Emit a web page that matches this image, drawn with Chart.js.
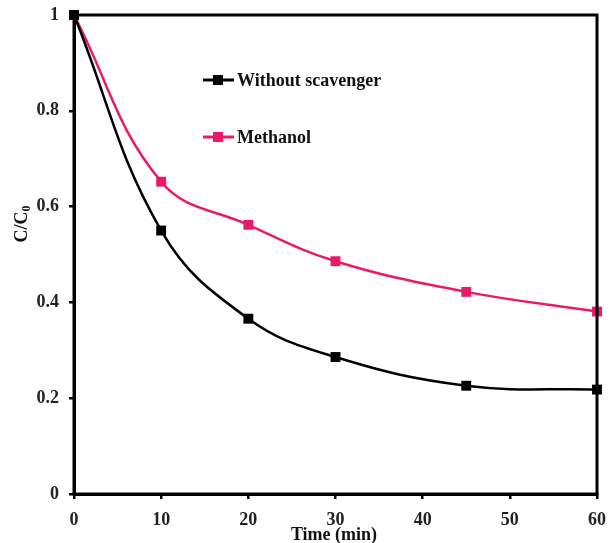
<!DOCTYPE html>
<html lang="en">
<head>
<meta charset="UTF-8">
<title>C/C0 vs time</title>
<script src="https://cdn.jsdelivr.net/npm/chart.js@4.4.1/dist/chart.umd.min.js"></script>
<style>
  html, body { margin: 0; padding: 0; background: #fff; }
  #wrap { width: 615px; height: 543px; }
</style>
</head>
<body>
<div id="wrap"><canvas id="myChart" width="615" height="543"></canvas></div>
<script>
    // data
    const times = [0, 10, 20, 30, 45, 60];
    const withoutScavenger = [1, 0.55, 0.366, 0.286, 0.226, 0.218];
    const methanol = [1, 0.652, 0.562, 0.486, 0.422, 0.381];
    const seriesNames = ['Without scavenger', 'Methanol'];
    const xTicks = [0, 10, 20, 30, 40, 50, 60];
    const yTicks = [0, 0.2, 0.4, 0.6, 0.8, 1];

    const PINK = '#EA1A6B';
    const FONT = 'bold 18px "Liberation Serif"';

    function toPoints(ys) {
        return times.map((t, i) => ({ x: t, y: ys[i] }));
    }

    // frame, axis titles and the legend inside the plot
    const extras = {
        id: 'extras',
        afterDraw(chart) {
            const ctx = chart.ctx;
            const a = chart.chartArea;
            ctx.save();
            ctx.strokeStyle = '#000';
            ctx.lineWidth = 3;
            ctx.strokeRect(a.left, a.top, a.right - a.left, a.bottom - a.top);

            ctx.fillStyle = '#111';
            ctx.font = FONT;
            ctx.textAlign = 'center';
            ctx.textBaseline = 'middle';
            ctx.fillText('Time (min)', 334, 535);

            // y title with subscript
            ctx.translate(22, 224);
            ctx.rotate(-Math.PI / 2);
            ctx.textAlign = 'left';
            const w1 = ctx.measureText('C/C').width;
            ctx.font = 'bold 12px "Liberation Serif"';
            const w2 = ctx.measureText('0').width;
            const start = -(w1 + w2) / 2;
            ctx.font = FONT;
            ctx.fillText('C/C', start, 0);
            ctx.font = 'bold 12px "Liberation Serif"';
            ctx.fillText('0', start + w1, 5);
            ctx.restore();

            // legend
            const items = [
                { label: seriesNames[0], color: '#000', y: 80 },
                { label: seriesNames[1], color: PINK, y: 137 }
            ];
            ctx.save();
            items.forEach(it => {
                ctx.strokeStyle = it.color;
                ctx.fillStyle = it.color;
                ctx.lineWidth = 3;
                ctx.beginPath();
                ctx.moveTo(203, it.y);
                ctx.lineTo(234, it.y);
                ctx.stroke();
                ctx.fillRect(213, it.y - 5, 10, 10);
                ctx.fillStyle = '#111';
                ctx.font = FONT;
                ctx.textAlign = 'left';
                ctx.textBaseline = 'middle';
                ctx.fillText(it.label, 237, it.y + 1);
            });
            ctx.restore();
        }
    };

    const tickFont = { family: 'Liberation Serif', size: 18, weight: 'bold', lineHeight: 1 };

    const ctx = document.getElementById('myChart').getContext('2d');
    const myChart = new Chart(ctx, {
        type: 'line',
        data: {
            datasets: [
                {
                    label: seriesNames[0],
                    data: toPoints(withoutScavenger),
                    borderColor: '#000',
                    backgroundColor: '#000',
                    borderWidth: 2.5,
                    pointStyle: 'rect',
                    pointRadius: 7,
                    pointBorderWidth: 0,
                    tension: 0.4,
                    clip: false
                },
                {
                    label: seriesNames[1],
                    data: toPoints(methanol),
                    borderColor: PINK,
                    backgroundColor: PINK,
                    borderWidth: 2.5,
                    pointStyle: 'rect',
                    pointRadius: 7,
                    pointBorderWidth: 0,
                    tension: 0.4,
                    clip: false
                }
            ]
        },
        options: {
            responsive: false,
            animation: false,
            layout: { padding: { top: 15, right: 18, left: 0, bottom: 0 } },
            plugins: {
                legend: { display: false },
                tooltip: { enabled: false }
            },
            scales: {
                x: {
                    type: 'linear',
                    min: 0,
                    max: 60,
                    afterBuildTicks: s => { s.ticks = xTicks.map(v => ({ value: v })); },
                    afterFit: s => { s.height = 49; s.paddingLeft = 0; s.paddingRight = 0; },
                    grid: { drawOnChartArea: false, drawTicks: true, tickLength: 5, color: '#000', lineWidth: 2.5 },
                    border: { display: true, color: '#000', width: 3 },
                    ticks: { color: '#222', font: tickFont, padding: 12, maxRotation: 0 }
                },
                y: {
                    min: 0,
                    max: 1,
                    afterBuildTicks: s => { s.ticks = yTicks.map(v => ({ value: v })); },
                    afterFit: s => { s.width = 74; s.paddingTop = 0; s.paddingBottom = 0; },
                    grid: { drawOnChartArea: false, drawTicks: true, tickLength: 5, color: '#000', lineWidth: 2.5 },
                    border: { display: true, color: '#000', width: 3 },
                    ticks: { color: '#222', font: tickFont, padding: 10,
                        callback: v => String(Math.round(v * 10) / 10) }
                }
            }
        },
        plugins: [extras]
    });
</script>
</body>
</html>
